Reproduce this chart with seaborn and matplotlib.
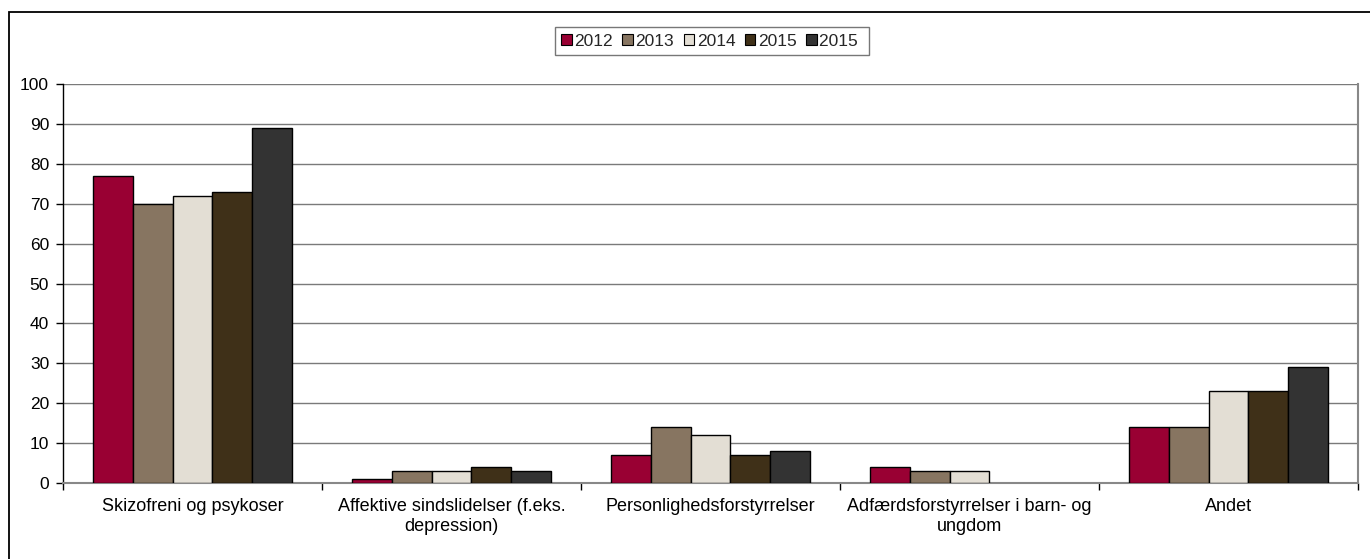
import numpy as np
import pandas as pd
import matplotlib
matplotlib.use("Agg")
import matplotlib.pyplot as plt
import seaborn as sns
from matplotlib.patches import Rectangle

categories = ["Skizofreni og psykoser",
              "Affektive sindslidelser (f.eks.\ndepression)",
              "Personlighedsforstyrrelser",
              "Adfærdsforstyrrelser i barn- og\nungdom",
              "Andet"]
series_names = ["2012", "2013", "2014", "2015", "2015 "]
v2012 = [77, 1, 7, 4, 14]
v2013 = [70, 3, 14, 3, 14]
v2014 = [72, 3, 12, 3, 23]
v2015a = [73, 4, 7, np.nan, 23]
v2015b = [89, 3, 8, np.nan, 29]
colors = ["#990033", "#877561", "#E3DED4", "#3F3018", "#333333"]

rows = []
for name, vals in zip(series_names, [v2012, v2013, v2014, v2015a, v2015b]):
    for c, v in zip(categories, vals):
        rows.append({"cat": c, "year": name, "val": v})
df = pd.DataFrame(rows)

sns.set_theme(style="white")
plt.rcParams["font.family"] = ["Liberation Sans", "DejaVu Sans"]

fig = plt.figure(figsize=(13.7, 5.59), dpi=100)
ax = fig.add_axes([63/1370, 1-483/559, (1358-63)/1370, (483-84)/559])

sns.barplot(data=df, x="cat", y="val", hue="year", order=categories,
            hue_order=series_names, palette=colors, width=0.77,
            edgecolor="black", linewidth=1.0, ax=ax, errorbar=None,
            saturation=1, zorder=3)

ax.set_ylim(0, 100)
ax.set_xlim(-0.5, len(categories) - 0.5)
ax.set_yticks(range(0, 101, 10))
ax.yaxis.grid(True, color="#7a7a7a", linewidth=1.0, zorder=0)
ax.set_axisbelow(True)
ax.set_xlabel("")
ax.set_ylabel("")

ax.spines["left"].set_color("black")
ax.spines["left"].set_linewidth(1.0)
ax.spines["top"].set_visible(False)
ax.spines["right"].set_color("#888888")
ax.spines["right"].set_linewidth(1.5)
ax.spines["bottom"].set_color("#888888")
ax.spines["bottom"].set_linewidth(1.5)

FS = 12.5
ax.tick_params(axis="y", which="major", left=True, length=5, width=1,
               color="black", labelsize=FS, pad=5, labelcolor="black")
ax.tick_params(axis="x", which="major", length=0, labelsize=13, pad=11,
               labelcolor="black")
ax.set_xticks(np.arange(-0.5, len(categories), 1.0), minor=True)
ax.tick_params(axis="x", which="minor", bottom=True, length=5, width=1,
               color="black")

leg = ax.legend(loc="center", bbox_to_anchor=(712/1370, 1-41/559),
                bbox_transform=fig.transFigure, ncol=5, frameon=True,
                fancybox=False, edgecolor="#555555", fontsize=FS,
                handlelength=0.6, handleheight=0.6, handletextpad=0.15,
                columnspacing=0.55, borderpad=0.35)
leg.get_frame().set_linewidth(1.0)
for h in leg.legend_handles:
    h.set_edgecolor("black")
    h.set_linewidth(0.8)

fig.patches.append(Rectangle((9/1370, -0.05), 1.1, 1-12/559 + 0.05,
                             transform=fig.transFigure, fill=False,
                             edgecolor="black", linewidth=1.3))

fig.savefig("out.png", dpi=100)
